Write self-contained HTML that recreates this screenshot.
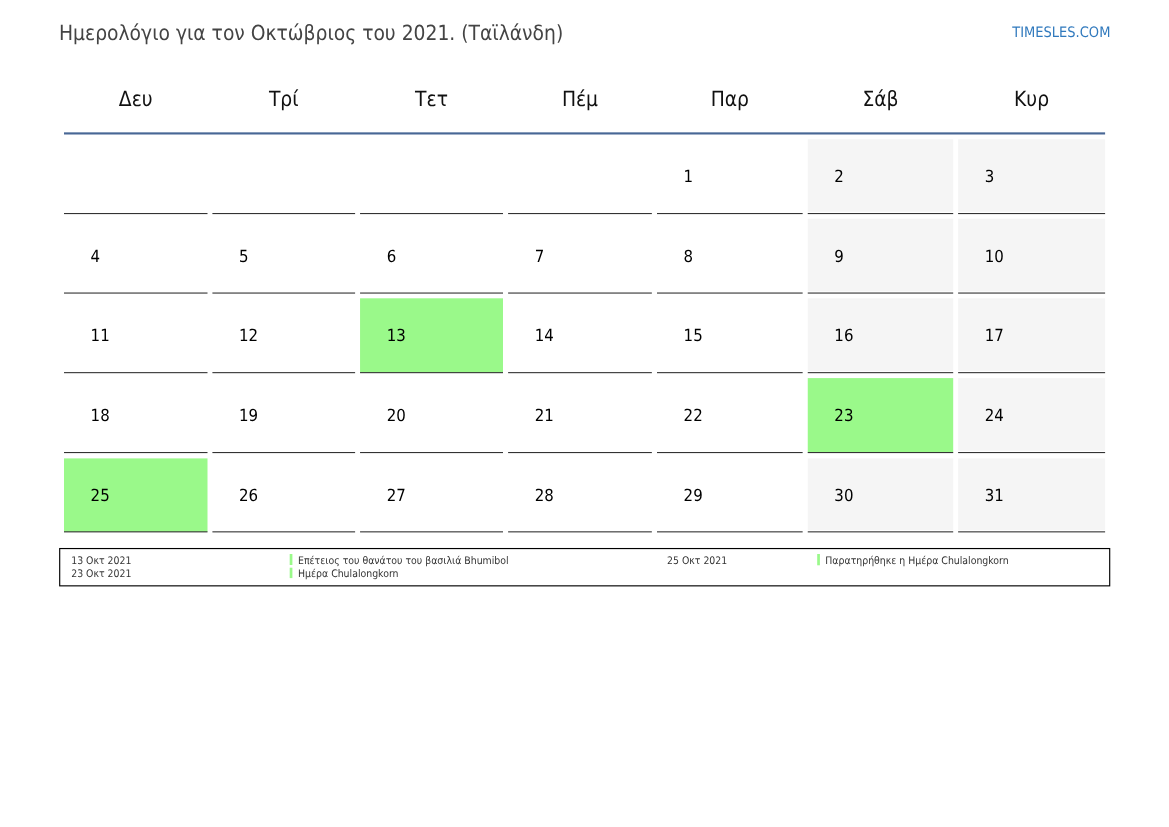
<!DOCTYPE html>
<html lang="el"><head><meta charset="utf-8"><title>Ημερολόγιο για τον Οκτώβριος του 2021</title>
<style>
html,body{margin:0;padding:0;background:#fff;}
body{width:1169px;height:827px;position:relative;overflow:hidden;font-family:"DejaVu Sans Condensed","DejaVu Sans","Liberation Sans",sans-serif;font-stretch:condensed;color:#000;text-rendering:geometricPrecision;}
svg{position:absolute;left:0;top:0;}
.a{position:absolute;white-space:nowrap;}
.title{font-size:20.83px;line-height:26px;color:#444;}
.site{font-size:14.5px;line-height:19px;color:#3079bd;text-align:right;}
.hd{font-size:20.83px;line-height:26px;text-align:center;color:#111;}
.n{font-size:16.67px;line-height:19px;color:#000;text-rendering:geometricPrecision;}
.lt{font-size:10.42px;line-height:12px;color:#333;}
</style></head><body>

<svg width="1169" height="827" viewBox="0 0 1169 827">
<rect x="64" y="132.35" width="1041.1" height="2.15" fill="#486795"/>
<rect x="64.0" y="213.00" width="143.5" height="1.1" fill="#333"/>
<rect x="212.4" y="213.00" width="142.7" height="1.1" fill="#333"/>
<rect x="360.05" y="213.00" width="142.95" height="1.1" fill="#333"/>
<rect x="508.1" y="213.00" width="143.75" height="1.1" fill="#333"/>
<rect x="657.0" y="213.00" width="145.65" height="1.1" fill="#333"/>
<rect x="807.75" y="139.30" width="145.45" height="72.50" fill="#f5f5f5"/>
<rect x="807.75" y="213.00" width="145.45" height="1.1" fill="#333"/>
<rect x="958.1" y="139.30" width="147.0" height="72.50" fill="#f5f5f5"/>
<rect x="958.1" y="213.00" width="147.0" height="1.1" fill="#333"/>
<rect x="64.0" y="292.50" width="143.5" height="1.1" fill="#333"/>
<rect x="212.4" y="292.50" width="142.7" height="1.1" fill="#333"/>
<rect x="360.05" y="292.50" width="142.95" height="1.1" fill="#333"/>
<rect x="508.1" y="292.50" width="143.75" height="1.1" fill="#333"/>
<rect x="657.0" y="292.50" width="145.65" height="1.1" fill="#333"/>
<rect x="807.75" y="218.70" width="145.45" height="72.60" fill="#f5f5f5"/>
<rect x="807.75" y="292.50" width="145.45" height="1.1" fill="#333"/>
<rect x="958.1" y="218.70" width="147.0" height="72.60" fill="#f5f5f5"/>
<rect x="958.1" y="292.50" width="147.0" height="1.1" fill="#333"/>
<rect x="64.0" y="372.10" width="143.5" height="1.1" fill="#333"/>
<rect x="212.4" y="372.10" width="142.7" height="1.1" fill="#333"/>
<rect x="360.05" y="298.30" width="142.95" height="74.40" fill="#9af98a"/>
<rect x="360.05" y="372.10" width="142.95" height="1.1" fill="#333"/>
<rect x="508.1" y="372.10" width="143.75" height="1.1" fill="#333"/>
<rect x="657.0" y="372.10" width="145.65" height="1.1" fill="#333"/>
<rect x="807.75" y="298.30" width="145.45" height="72.60" fill="#f5f5f5"/>
<rect x="807.75" y="372.10" width="145.45" height="1.1" fill="#333"/>
<rect x="958.1" y="298.30" width="147.0" height="72.60" fill="#f5f5f5"/>
<rect x="958.1" y="372.10" width="147.0" height="1.1" fill="#333"/>
<rect x="64.0" y="452.00" width="143.5" height="1.1" fill="#333"/>
<rect x="212.4" y="452.00" width="142.7" height="1.1" fill="#333"/>
<rect x="360.05" y="452.00" width="142.95" height="1.1" fill="#333"/>
<rect x="508.1" y="452.00" width="143.75" height="1.1" fill="#333"/>
<rect x="657.0" y="452.00" width="145.65" height="1.1" fill="#333"/>
<rect x="807.75" y="378.10" width="145.45" height="74.50" fill="#9af98a"/>
<rect x="807.75" y="452.00" width="145.45" height="1.1" fill="#333"/>
<rect x="958.1" y="378.10" width="147.0" height="72.70" fill="#f5f5f5"/>
<rect x="958.1" y="452.00" width="147.0" height="1.1" fill="#333"/>
<rect x="64.0" y="458.40" width="143.5" height="73.50" fill="#9af98a"/>
<rect x="64.0" y="531.30" width="143.5" height="1.1" fill="#333"/>
<rect x="212.4" y="531.30" width="142.7" height="1.1" fill="#333"/>
<rect x="360.05" y="531.30" width="142.95" height="1.1" fill="#333"/>
<rect x="508.1" y="531.30" width="143.75" height="1.1" fill="#333"/>
<rect x="657.0" y="531.30" width="145.65" height="1.1" fill="#333"/>
<rect x="807.75" y="458.40" width="145.45" height="71.70" fill="#f5f5f5"/>
<rect x="807.75" y="531.30" width="145.45" height="1.1" fill="#333"/>
<rect x="958.1" y="458.40" width="147.0" height="71.70" fill="#f5f5f5"/>
<rect x="958.1" y="531.30" width="147.0" height="1.1" fill="#333"/>
<rect x="59.7" y="548.55" width="1050" height="37.3" fill="none" stroke="#000" stroke-width="1.15"/>
<rect x="289.7" y="554.0" width="2.7" height="11" fill="#9af98a"/>
<rect x="289.7" y="567.7" width="2.7" height="10.4" fill="#9af98a"/>
<rect x="817.2" y="554.0" width="2.7" height="11.3" fill="#9af98a"/>
</svg>
<div class="a title" style="left:59px;top:20.00px">Ημερολόγιο για τον Οκτώβριος του 2021. (Ταϊλάνδη)</div>
<div class="a site" style="right:58.6px;top:23.50px">TIMESLES.COM</div>
<div class="a hd" style="left:64.0px;top:86.00px;width:143.50px">Δευ</div>
<div class="a hd" style="left:212.4px;top:86.00px;width:142.70px">Τρί</div>
<div class="a hd" style="left:360.05px;top:86.00px;width:142.95px">Τετ</div>
<div class="a hd" style="left:508.1px;top:86.00px;width:143.75px">Πέμ</div>
<div class="a hd" style="left:657.0px;top:86.00px;width:145.65px">Παρ</div>
<div class="a hd" style="left:807.75px;top:86.00px;width:145.45px">Σάβ</div>
<div class="a hd" style="left:958.1px;top:86.00px;width:147.00px">Κυρ</div>
<div class="a n" style="left:683.60px;top:167.00px">1</div>
<div class="a n" style="left:834.35px;top:167.00px">2</div>
<div class="a n" style="left:984.70px;top:167.00px">3</div>
<div class="a n" style="left:90.60px;top:247.00px">4</div>
<div class="a n" style="left:239.00px;top:247.00px">5</div>
<div class="a n" style="left:386.65px;top:247.00px">6</div>
<div class="a n" style="left:534.70px;top:247.00px">7</div>
<div class="a n" style="left:683.60px;top:247.00px">8</div>
<div class="a n" style="left:834.35px;top:247.00px">9</div>
<div class="a n" style="left:984.70px;top:247.00px">10</div>
<div class="a n" style="left:90.60px;top:326.00px">11</div>
<div class="a n" style="left:239.00px;top:326.00px">12</div>
<div class="a n" style="left:386.65px;top:326.00px">13</div>
<div class="a n" style="left:534.70px;top:326.00px">14</div>
<div class="a n" style="left:683.60px;top:326.00px">15</div>
<div class="a n" style="left:834.35px;top:326.00px">16</div>
<div class="a n" style="left:984.70px;top:326.00px">17</div>
<div class="a n" style="left:90.60px;top:406.00px">18</div>
<div class="a n" style="left:239.00px;top:406.00px">19</div>
<div class="a n" style="left:386.65px;top:406.00px">20</div>
<div class="a n" style="left:534.70px;top:406.00px">21</div>
<div class="a n" style="left:683.60px;top:406.00px">22</div>
<div class="a n" style="left:834.35px;top:406.00px">23</div>
<div class="a n" style="left:984.70px;top:406.00px">24</div>
<div class="a n" style="left:90.60px;top:486.00px">25</div>
<div class="a n" style="left:239.00px;top:486.00px">26</div>
<div class="a n" style="left:386.65px;top:486.00px">27</div>
<div class="a n" style="left:534.70px;top:486.00px">28</div>
<div class="a n" style="left:683.60px;top:486.00px">29</div>
<div class="a n" style="left:834.35px;top:486.00px">30</div>
<div class="a n" style="left:984.70px;top:486.00px">31</div>
<div class="a lt" style="left:71.2px;top:555.00px">13 Οκτ 2021</div>
<div class="a lt" style="left:298.0px;top:555.00px">Επέτειος του θανάτου του βασιλιά Bhumibol</div>
<div class="a lt" style="left:71.2px;top:568.00px">23 Οκτ 2021</div>
<div class="a lt" style="left:298.0px;top:568.00px">Ημέρα Chulalongkorn</div>
<div class="a lt" style="left:667.0px;top:555.00px">25 Οκτ 2021</div>
<div class="a lt" style="left:825.3px;top:555.00px">Παρατηρήθηκε η Ημέρα Chulalongkorn</div>
</body></html>
